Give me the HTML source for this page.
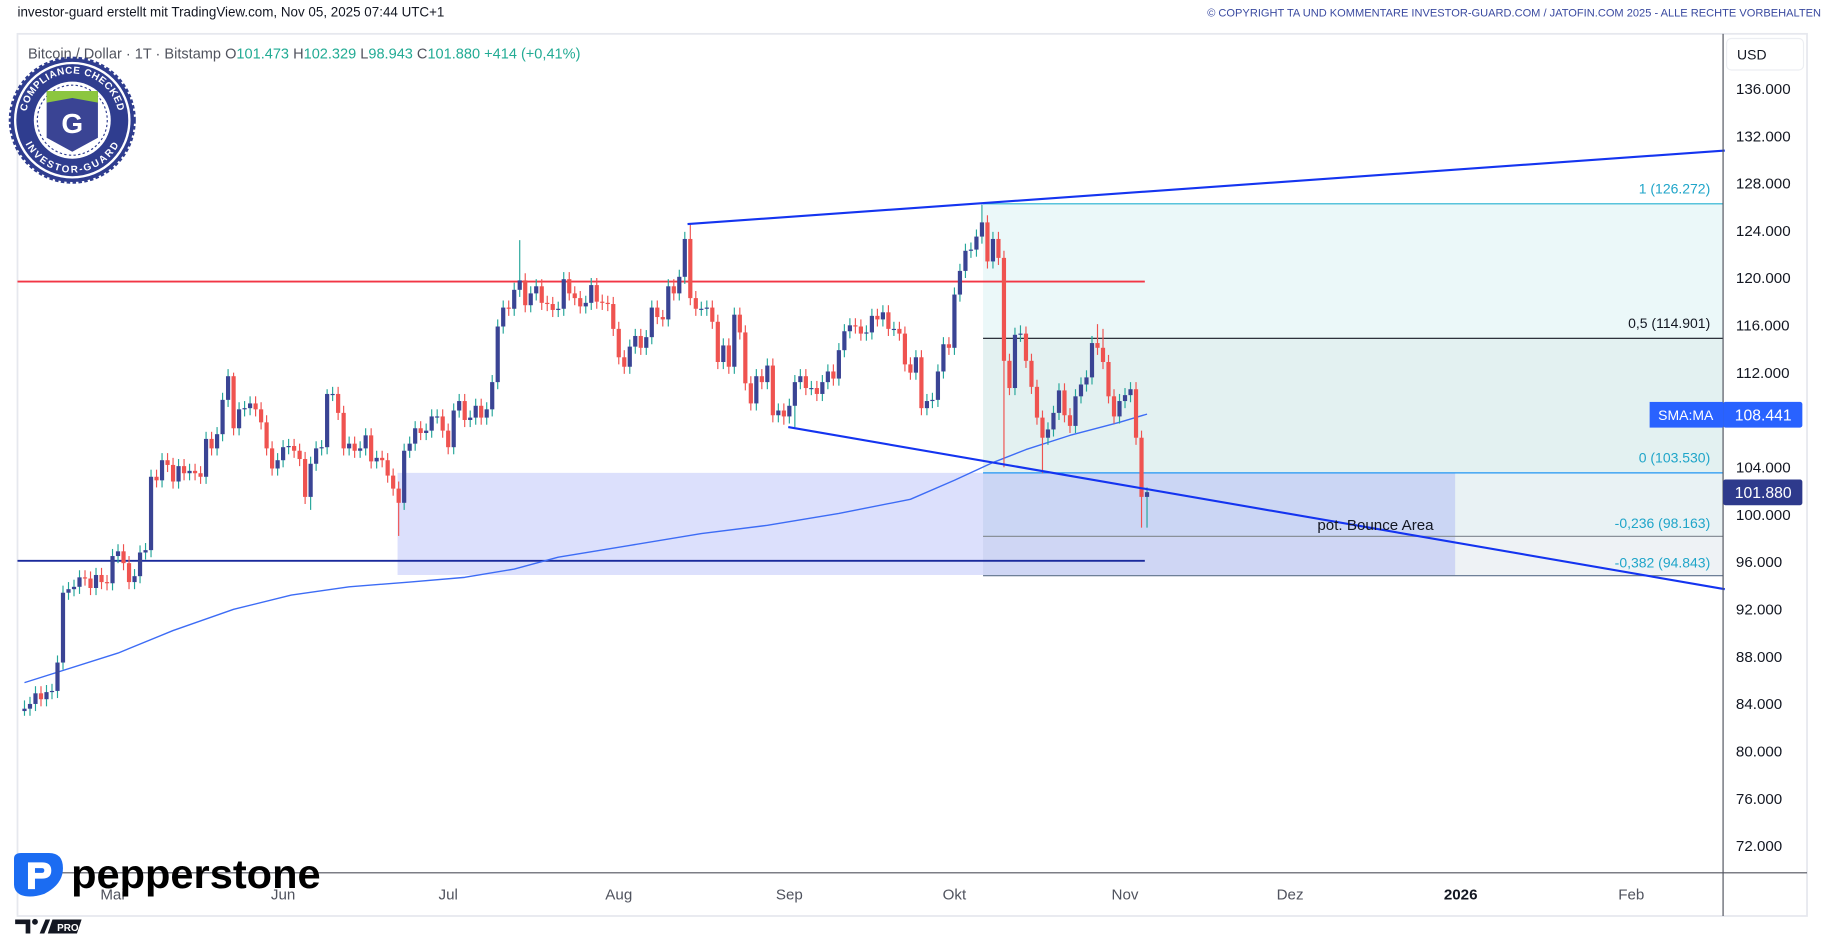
<!DOCTYPE html>
<html><head><meta charset="utf-8">
<style>
html,body{margin:0;padding:0;background:#fff;overflow:hidden}
svg{display:block}
text{font-family:"Liberation Sans",sans-serif}
</style></head>
<body>
<svg id="chart" width="1828" height="937" viewBox="0 0 1568 803" preserveAspectRatio="none" xmlns="http://www.w3.org/2000/svg">
  <rect x="0" y="0" width="1568" height="803" fill="#fff"/>
  <text x="15" y="14" font-size="11.5" fill="#131722">investor-guard erstellt mit TradingView.com, Nov 05, 2025 07:44 UTC+1</text>
  <text x="1562" y="14" font-size="9.5" fill="#3a4aa0" text-anchor="end">© COPYRIGHT TA UND KOMMENTARE INVESTOR-GUARD.COM / JATOFIN.COM 2025 - ALLE RECHTE VORBEHALTEN</text>
  <rect x="15" y="29" width="1535" height="756" fill="#fff" stroke="#e6e8ee" stroke-width="1.5"/>
  <g id="plot"></g>
  <line x1="1478" y1="29" x2="1478" y2="785" stroke="#50535e" stroke-width="1"/>
  <line x1="15" y1="748" x2="1550" y2="748" stroke="#50535e" stroke-width="1"/>
  <g id="yaxis"></g>
  <g id="xaxis"></g>
  <rect x="1481" y="33" width="66" height="27" rx="4" fill="#fff" stroke="#eceef2"/>
  <text x="1490" y="51" font-size="12" fill="#131722">USD</text>
  <text x="24" y="50" font-size="12.5" fill="#50535e">Bitcoin / Dollar · 1T · Bitstamp <tspan fill="#50535e">O</tspan><tspan fill="#22ab94">101.473</tspan> <tspan fill="#50535e">H</tspan><tspan fill="#22ab94">102.329</tspan> <tspan fill="#50535e">L</tspan><tspan fill="#22ab94">98.943</tspan> <tspan fill="#50535e">C</tspan><tspan fill="#22ab94">101.880</tspan> <tspan fill="#22ab94">+414 (+0,41%)</tspan></text>
  <g>
    <circle cx="62" cy="103" r="53" fill="#2f3d8f" stroke="#2f3d8f" stroke-width="3" stroke-dasharray="3 2"/>
    <circle cx="62" cy="103" r="50" fill="#fff"/>
    <circle cx="62" cy="103" r="48" fill="#2f3d8f"/>
    <circle cx="62" cy="103" r="33" fill="#fff"/>
    <circle cx="62" cy="103" r="30" fill="none" stroke="#2f3d8f" stroke-width="1" stroke-dasharray="2 2"/>
    <path d="M40 78 H84 V118 L62 130 L40 118 Z" fill="#3a4494"/>
    <path d="M40 78 H84 V88 L62 84 L40 88 Z" fill="#8cc63f"/>
    <text x="62" y="114" font-size="24" font-weight="bold" fill="#fff" text-anchor="middle">G</text>
    <defs>
      <path id="arcTop" d="M22 103 A40 40 0 0 1 102 103"/>
      <path id="arcBot" d="M24 103 A38 38 0 0 0 100 103"/>
    </defs>
    <text font-size="8.5" font-weight="bold" fill="#fff" letter-spacing="0.5"><textPath href="#arcTop" startOffset="50%" text-anchor="middle">COMPLIANCE CHECKED</textPath></text>
    <text font-size="8.5" font-weight="bold" fill="#fff" letter-spacing="0.5" dy="7"><textPath href="#arcBot" startOffset="50%" text-anchor="middle">INVESTOR-GUARD</textPath></text>
  </g>
  <g>
    <path d="M12 736 Q12 731 18 731 H42 Q54 731 54 744 Q54 758 38 766 Q26 770 18 767 Q12 764 12 758 Z" fill="#1b6cf2"/>
    <path d="M24 739 H36 Q44 739 44 746 Q44 753 36 753 H30 V762 H24 Z M30 744 V748 H36 Q38 748 38 746 Q38 744 36 744 Z" fill="#fff"/>
    <text x="61" y="761" font-size="35" font-weight="bold" fill="#000" textLength="214" lengthAdjust="spacingAndGlyphs">pepperstone</text>
  </g>
  <g>
    <path d="M13 788 H26 V800 H22 V792 H13 Z" fill="#131722"/>
    <circle cx="30" cy="790" r="2.5" fill="#131722"/>
    <path d="M34 800 L39 788 H43 L38 800 Z" fill="#131722"/>
    <path d="M45 788 H70 L66 800 H41 Z" fill="#131722"/>
    <text x="49" y="798" font-size="8.5" font-weight="bold" fill="#fff">PRO</text>
  </g>
</svg>
<script>
// ---- data ----
const months = ["Mai","Jun","Jul","Aug","Sep","Okt","Nov","Dez","2026","Feb"];
const monthIdx = [16,47,77,108,139,169,200,230,261,292];
const yTicks = [136,132,128,124,120,116,112,104,100,96,92,88,84,80,76,72];
const closes = [
83.6,84.0,84.9,84.4,85.0,85.1,87.5,93.4,93.7,93.9,94.7,94.6,93.8,94.9,94.3,94.2,
96.5,96.9,95.9,94.3,94.8,96.8,97.0,103.2,102.9,104.6,104.2,102.8,104.1,103.5,103.7,103.5,103.2,106.4,105.6,106.8,109.7,111.7,107.3,108.9,109.0,109.4,108.9,107.8,105.6,103.9,104.6,
105.7,105.8,105.4,104.7,101.5,104.3,105.6,105.7,110.2,110.2,108.6,105.6,106.0,105.4,105.6,106.7,104.5,104.8,104.6,103.3,102.2,101.0,105.4,106.0,107.3,106.9,107.1,108.3,108.3,107.1,
105.7,108.8,109.6,108.0,108.2,109.2,108.2,108.9,111.2,115.9,117.5,117.4,119.0,119.8,117.7,118.7,119.3,117.9,117.8,117.3,117.4,119.9,118.7,118.3,117.6,117.9,119.4,118.0,117.9,117.8,115.7,
113.3,112.5,114.2,115.1,114.1,115.0,117.5,116.7,116.5,119.3,118.7,120.1,123.3,118.3,117.4,117.4,117.5,116.3,112.9,114.3,112.5,116.9,115.4,111.1,109.4,111.7,111.2,112.6,108.4,108.8,108.3,
109.2,111.2,111.7,110.7,110.7,110.2,111.2,112.1,111.5,113.9,115.5,116.0,115.9,115.3,115.4,116.8,116.5,117.1,115.7,115.7,115.3,112.7,112.0,113.3,109.0,109.6,109.7,112.1,114.4,114.1,
118.6,120.6,122.3,122.4,123.5,124.7,121.4,123.3,121.7,113.0,110.7,115.2,115.3,113.0,110.8,108.2,106.5,107.2,108.6,110.5,108.4,107.5,110.0,111.0,111.6,114.5,114.1,112.9,110.0,108.3,109.6,
110.1,110.6,106.5,101.5,101.9
];
const firstOpen = 83.4;
const wickHighs = {0:84.3,38:112.0,55:110.6,90:123.2,121:124.5,174:126.2,181:116.0,195:116.1,196:115.7,204:102.3};
const wickLows = {0:83.0,68:98.2,178:104.0,185:103.5,203:98.9,204:98.9,140:107.4,138:107.6,52:100.4};
const smaIdx = [0,17,27,38,48.5,59,70,80,89,97,110,123,135,148,161,169,176,182,190,199,204];
const smaVals = [85.8,88.3,90.2,92.0,93.2,93.9,94.3,94.7,95.4,96.4,97.4,98.4,99.1,100.1,101.3,102.9,104.4,105.5,106.7,107.8,108.5];
const fibLevels = [1,0.5,0,-0.236,-0.382];
const fibPrices = [126.272,114.901,103.530,98.163,94.843];
const fibLabels = ["1 (126.272)","0,5 (114.901)","0 (103.530)","-0,236 (98.163)","-0,382 (94.843)"];
const fibColors = ["#22b0d0","#131722","#2196f3","#8a9199","#5c6f8a"];
const fibFills = ["#ebf8f9","#e3f1f1","#e9f2f4","#eef2f5"];
const upperTrend = [[120.5,124.56],[309,130.77]];
const lowerTrend = [[138.8,107.4],[309,93.7]];
const redLevel = 119.7, navyLevel = 96.1;
const bounceBox = [67.8,260,103.53,94.9];
const lastPrice = 101.880, smaLast = 108.441;

// ---- axes ----
const X = i => 21 + i*4.72;
const Y = p => 76 + (136-p)*10.14;
const NS = "http://www.w3.org/2000/svg";
const plot = document.getElementById('plot');
const yax = document.getElementById('yaxis');
const xax = document.getElementById('xaxis');
function mk(tag, attrs, parent){const e=document.createElementNS(NS,tag);for(const k in attrs)e.setAttribute(k,attrs[k]);parent.appendChild(e);return e;}

const fx0 = X(174.2);
for(let k=0;k<fibFills.length;k++){
  const r = mk('rect',{x:fx0,y:Y(fibPrices[k]),width:1478-fx0,height:Y(fibPrices[k+1])-Y(fibPrices[k]),fill:fibFills[k]},plot);
  
  
}
const bb = mk('rect',{x:X(bounceBox[0]),y:Y(bounceBox[2]),width:X(bounceBox[1])-X(bounceBox[0]),height:Y(bounceBox[3])-Y(bounceBox[2]),fill:'rgba(120,135,245,0.26)'},plot);


for(let k=0;k<fibPrices.length;k++){
  const l = mk('line',{x1:fx0,x2:1478,y1:Y(fibPrices[k]),y2:Y(fibPrices[k]),stroke:fibColors[k],'stroke-width':1},plot);
  
  
  const t = mk('text',{x:1467,y:Y(fibPrices[k])-(k>=3?7:9),'font-size':12,fill:k==1?'#131722':'#1fa5c9','text-anchor':'end'},plot);
  t.textContent = fibLabels[k];
  
  
}
const rl = mk('line',{x1:15,x2:X(203.6),y1:Y(redLevel),y2:Y(redLevel),stroke:'#f23645','stroke-width':1.6},plot);


const nl = mk('line',{x1:15,x2:X(203.6),y1:Y(navyLevel),y2:Y(navyLevel),stroke:'#1a2a9c','stroke-width':1.6},plot);



let d='';
smaIdx.forEach((i,k)=>{d+=(k?'L':'M')+X(i).toFixed(1)+' '+Y(smaVals[k]).toFixed(1)+' ';});
const sma = mk('path',{d:d,fill:'none',stroke:'#3d6cf5','stroke-width':1.2,'stroke-linejoin':'round'},plot);



for(let i=0;i<closes.length;i++){
  const o = i?closes[i-1]:firstOpen, c = closes[i];
  const up = c>=o;
  const h = wickHighs[i]!==undefined?wickHighs[i]:Math.max(o,c)+0.6;
  const lo = wickLows[i]!==undefined?wickLows[i]:Math.min(o,c)-0.6;
  const w = mk('line',{x1:X(i),x2:X(i),y1:Y(h),y2:Y(lo),stroke:up?'#26a69a':'#ef5350','stroke-width':1},plot);
  
  
  const top=Y(Math.max(o,c)), bot=Y(Math.min(o,c));
  const b = mk('rect',{x:X(i)-1.8,y:top,width:3.6,height:Math.max(1,bot-top),fill:up?'#3a4494':'#ef5350'},plot);
  
  
}
[upperTrend,lowerTrend].forEach((t,k)=>{
  const l = mk('line',{x1:X(t[0][0]),y1:Y(t[0][1]),x2:X(t[1][0]),y2:Y(t[1][1]),stroke:'#1434f0','stroke-width':1.8},plot);
  
  
});
const ba = mk('text',{x:1130,y:454,'font-size':13,fill:'#131722'},plot);
ba.textContent='pot. Bounce Area';



yTicks.forEach(v=>{
  const t = mk('text',{x:1489,y:Y(v)+4.5,'font-size':13,fill:'#131722'},yax);
  t.textContent = v.toFixed(0)+'.000';
  
  
});
const smaBox = mk('rect',{x:1415,y:Y(smaLast)-11,width:63,height:22,fill:'#2962ff'},yax);


const smaT = mk('text',{x:1446,y:Y(smaLast)+4.5,'font-size':12,fill:'#fff','text-anchor':'middle'},yax);
smaT.textContent='SMA:MA';


const smaP = mk('rect',{x:1478,y:Y(smaLast)-11,width:68,height:22,rx:2,fill:'#2962ff'},yax);


const smaPT = mk('text',{x:1488,y:Y(smaLast)+5,'font-size':13.5,fill:'#fff'},yax);
smaPT.textContent=smaLast.toFixed(3);


const lp = mk('rect',{x:1478,y:Y(lastPrice)-11,width:68,height:22,rx:2,fill:'#2e3a8c'},yax);


const lpt = mk('text',{x:1488,y:Y(lastPrice)+5,'font-size':13.5,fill:'#fff'},yax);
lpt.textContent=lastPrice.toFixed(3);



months.forEach((m,k)=>{
  const t = mk('text',{x:X(monthIdx[k]),y:771,'font-size':13,fill:m==='2026'?'#131722':'#50535e','font-weight':m==='2026'?'bold':'normal','text-anchor':'middle'},xax);
  t.textContent=m;
  
  
});
</script>
</body></html>
